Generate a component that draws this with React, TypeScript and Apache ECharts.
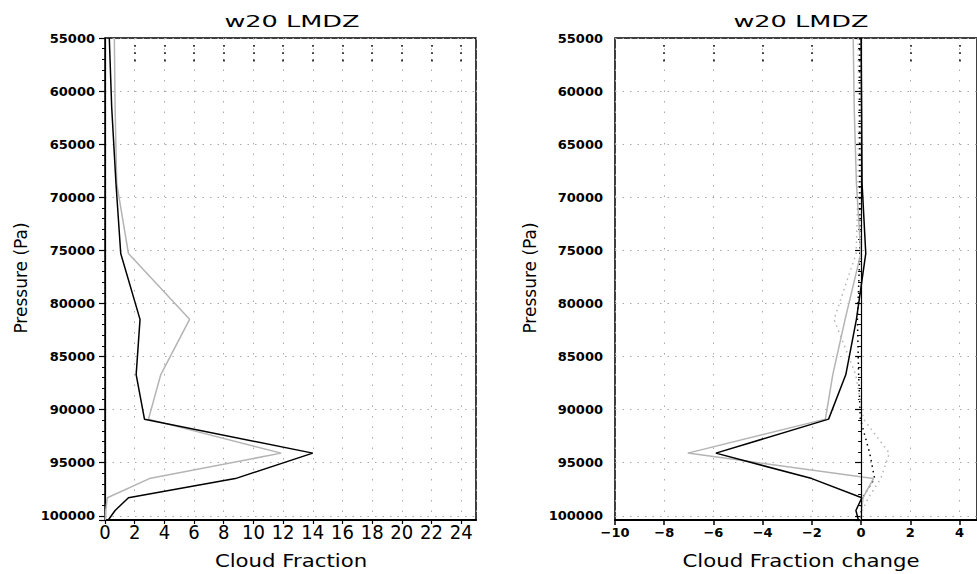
import React, { useEffect, useRef } from "react";
import * as echarts from "echarts";

// Pressure levels (Pa) of the profiles
const pressure = [55000, 61500, 68700, 75300, 81500, 86700, 90900, 94100, 96500, 98300, 99500, 100400];

// Left panel: cloud fraction
const cfBlack = [0.29, 0.45, 0.74, 1.06, 2.36, 2.1, 2.66, 14.0, 8.78, 1.58, 0.68, 0.22];
const cfGrey = [0.63, 0.68, 0.79, 1.58, 5.7, 3.76, 2.93, 11.87, 2.99, 0.16, 0.05, 0.02];

// Right panel: cloud fraction change
const dBlack = [0.0, 0.02, 0.04, 0.19, -0.19, -0.62, -1.32, -5.9, -2.0, 0.03, -0.21, -0.11];
const dGrey = [-0.32, -0.28, -0.19, -0.01, -0.65, -1.15, -1.45, -7.04, 0.5, 0.08, 0.02, 0.0];
const dBlackDot = [-0.05, -0.05, -0.05, -0.05, -0.15, -0.1, -0.03, 0.35, 0.55, 0.05, 0.0, 0.0];
const dGreyDot = [-0.12, -0.1, -0.12, -0.2, -1.1, -0.22, 0.1, 1.15, 0.8, 0.3, 0.05, 0.0];

// Tick labels / extents
const leftXTicks = [0, 2, 4, 6, 8, 10, 12, 14, 16, 18, 20, 22, 24];
const rightXTicks = [-10, -8, -6, -4, -2, 0, 2, 4];
const pressureTicks = [55000, 60000, 65000, 70000, 75000, 80000, 85000, 90000, 95000, 100000];
const topDotsLeft = [2, 4, 6, 8, 10, 12, 14, 16, 18, 20, 22, 24];
const topDotsRight = [-8, -6, -4, -2, 2, 4];
const topDotsRange = [55660, 57260];

const titles = ["w20 LMDZ", "w20 LMDZ"];
const xNames = ["Cloud Fraction", "Cloud Fraction change"];
const yName = "Pressure (Pa)";

const zip = (xs: number[]) => xs.map((v, i) => [v, pressure[i]]);

const tickFont = { fontFamily: "DejaVu Sans", fontWeight: "bold" as const, fontSize: 13, color: "#000" };

function yAxisFor(gridIndex: number, margin: number) {
  return {
    type: "value" as const,
    gridIndex,
    inverse: true,
    min: pressureTicks[0],
    max: 100400,
    interval: pressureTicks[1] - pressureTicks[0],
    axisLine: { show: true, lineStyle: { color: "#000", width: 1.2 } },
    axisTick: { show: true, inside: false, length: 6, lineStyle: { color: "#000", width: 1.2 } },
    minorTick: { show: true, splitNumber: 5, length: 3, lineStyle: { color: "#000", width: 1 } },
    axisLabel: { ...tickFont, margin, showMaxLabel: false, formatter: (v: number) => String(v) },
    splitLine: { show: true, lineStyle: { color: "#aaa", type: [1.5, 6] as any, width: 1 } },
  };
}

function topDots(xs: number[]) {
  return {
    silent: true,
    symbol: ["none", "none"],
    label: { show: false },
    lineStyle: { color: "#000", type: [1.8, 5.5] as any, width: 1.5 },
    data: xs.map((x) => [
      { coord: [x, topDotsRange[0]] },
      { coord: [x, topDotsRange[1]] },
    ]),
  };
}

const nameStyle = (text: string, size: number) => ({
  text,
  fontFamily: "DejaVu Sans",
  fontWeight: "normal",
  fontSize: size,
  fill: "#000",
  align: "center",
  verticalAlign: "middle",
});

export default function App() {
  const ref = useRef<HTMLDivElement>(null);
  useEffect(() => {
    if (!ref.current) return;
    const chart = echarts.init(ref.current, null, { renderer: "svg" });
    const option: any = {
      animation: false,
      backgroundColor: "#fff",
      grid: [
        { left: 105, top: 38, width: 371, height: 482, show: true, borderColor: "#000", borderWidth: 1.5, backgroundColor: "transparent" },
        { left: 615, top: 38, width: 364, height: 482, show: true, borderColor: "#000", borderWidth: 1.5, backgroundColor: "transparent" },
      ],
      xAxis: [
        {
          type: "value",
          gridIndex: 0,
          min: leftXTicks[0],
          max: 25,
          interval: 2,
          axisLine: { show: true, lineStyle: { color: "#000", width: 2 } },
          axisTick: { show: true, inside: false, length: 4, lineStyle: { color: "#000", width: 1.2 } },
          axisLabel: {
            fontFamily: "Liberation Sans Narrow, DejaVu Sans Condensed, sans-serif",
            fontSize: 20,
            color: "#000",
            margin: 2,
            showMaxLabel: false,
          },
          splitLine: { show: true, lineStyle: { color: "#aaa", type: [1.5, 9] as any, width: 1 } },
        },
        {
          type: "value",
          gridIndex: 1,
          min: rightXTicks[0],
          max: 4.71,
          interval: 2,
          axisLine: { show: true, onZero: false, lineStyle: { color: "#000", width: 2 } },
          axisTick: { show: true, inside: false, length: 5, lineStyle: { color: "#000", width: 1.5 } },
          axisLabel: {
            ...tickFont,
            margin: 6,
            showMaxLabel: false,
            formatter: (v: number) => (v < 0 ? "\u2212" + Math.abs(v) : String(v)),
          },
          splitLine: { show: true, lineStyle: { color: "#aaa", type: [1.5, 9] as any, width: 1 } },
        },
      ],
      yAxis: [yAxisFor(0, 10), yAxisFor(1, 12)],
      series: [
        {
          type: "line",
          xAxisIndex: 0,
          yAxisIndex: 0,
          data: zip(cfGrey),
          showSymbol: false,
          lineStyle: { color: "#b4b4b4", width: 1.5 },
          z: 3,
        },
        {
          type: "line",
          xAxisIndex: 0,
          yAxisIndex: 0,
          data: zip(cfBlack),
          showSymbol: false,
          lineStyle: { color: "#000", width: 1.5 },
          z: 4,
          markLine: topDots(topDotsLeft),
        },
        {
          type: "line",
          xAxisIndex: 1,
          yAxisIndex: 1,
          data: zip(dGreyDot),
          showSymbol: false,
          lineStyle: { color: "#b4b4b4", width: 1.5, type: [1.5, 4] },
          z: 2,
        },
        {
          type: "line",
          xAxisIndex: 1,
          yAxisIndex: 1,
          data: zip(dBlackDot),
          showSymbol: false,
          lineStyle: { color: "#000", width: 1.5, type: [1.5, 4] },
          z: 2,
        },
        {
          type: "line",
          xAxisIndex: 1,
          yAxisIndex: 1,
          data: zip(dGrey),
          showSymbol: false,
          lineStyle: { color: "#b4b4b4", width: 1.5 },
          z: 3,
        },
        {
          type: "line",
          xAxisIndex: 1,
          yAxisIndex: 1,
          data: zip(dBlack),
          showSymbol: false,
          lineStyle: { color: "#000", width: 1.5 },
          z: 4,
          markLine: {
            ...topDots(topDotsRight),
            data: [
              ...topDots(topDotsRight).data,
              [
                { coord: [0, pressureTicks[0]], lineStyle: { color: "#000", type: "solid", width: 1 } },
                { coord: [0, 100400] },
              ],
            ],
          },
        },
      ],
      graphic: [
        { type: "text", x: 292, y: 21, scaleX: 1.6, style: nameStyle(titles[0], 16) },
        { type: "text", x: 801, y: 21, scaleX: 1.6, style: nameStyle(titles[1], 16) },
        { type: "text", x: 291, y: 561, scaleX: 1.25, style: nameStyle(xNames[0], 17) },
        { type: "text", x: 801, y: 561, scaleX: 1.25, style: nameStyle(xNames[1], 17) },
        { type: "text", x: 21, y: 278, rotation: Math.PI / 2, style: nameStyle(yName, 17) },
        { type: "text", x: 530, y: 278, rotation: Math.PI / 2, style: nameStyle(yName, 17) },
      ],
    };
    chart.setOption(option);
    return () => chart.dispose();
  }, []);
  return (
    <div
      ref={ref}
      style={{ position: "fixed", left: 0, top: 0, width: 977, height: 574, background: "#fff" }}
    />
  );
}
